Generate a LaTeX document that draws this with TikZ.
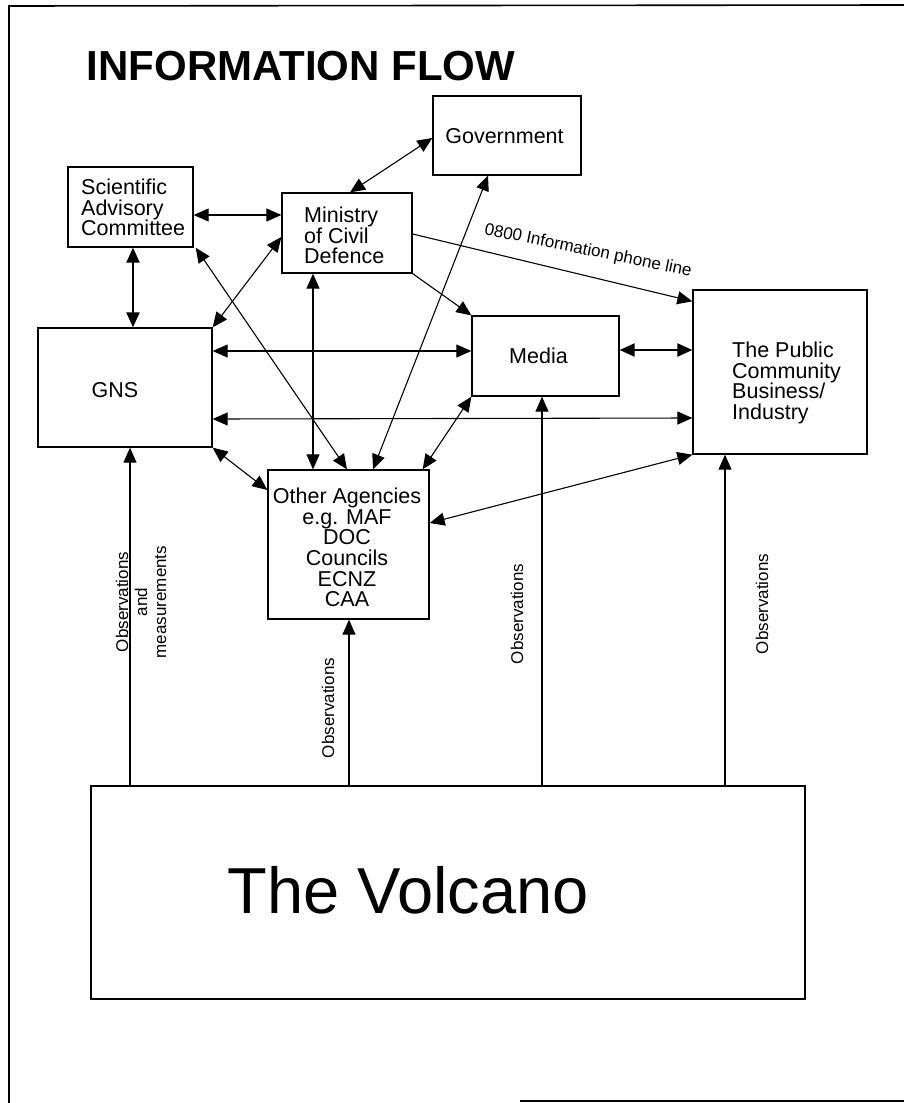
\documentclass[tikz,border=0pt]{standalone}
\usepackage{fontspec}
\setmainfont{Liberation Sans}
\usetikzlibrary{arrows.meta,calc}
\tikzset{
  box/.style={draw, line width=1.3pt, inner sep=0pt},
  boxtext/.style={inner sep=0pt, font=\fontsize{21.5}{20.6}\selectfont},
  obs/.style={inner sep=0pt, rotate=90, font=\fontsize{17}{19}\selectfont, align=center},
  conn/.style={line width=1.1pt, {Triangle[length=15pt,width=13pt]}-{Triangle[length=15pt,width=13pt]}},
  one/.style={line width=1.1pt, -{Triangle[length=15pt,width=13pt]}},
  heavy/.style={line width=2.2pt},
  frame/.style={line width=1.6pt}
}
\begin{document}
\begin{tikzpicture}[x=1pt,y=-1pt]
\useasboundingbox (0,0) rectangle (904,1103);
% frame
\coordinate (f1) at (9,1103);
\coordinate (f2) at (9,6);
\coordinate (f3) at (904,5);
\coordinate (f4) at (520,1101);
\coordinate (f5) at (904,1101);
\draw[frame] (f1) -- (f2) -- (f3);
\draw[frame] (f4) -- (f5);

% title
\node[anchor=base west, inner sep=0pt, font=\fontsize{42}{42}\selectfont\bfseries] (title) at (86.5,80) {INFORMATION FLOW};

% boxes
\node[box, minimum width=125pt, minimum height=80pt] (sac) at (130.5,207) {};
\node[box, minimum width=130pt, minimum height=80pt] (mcd) at (347,233) {};
\node[box, minimum width=148pt, minimum height=79pt] (gov) at (507,135.5) {};
\node[box, minimum width=174pt, minimum height=119pt] (gns) at (125,387.5) {};
\node[box, minimum width=147pt, minimum height=80pt] (med) at (545.5,356) {};
\node[box, minimum width=174pt, minimum height=164pt] (pub) at (780,372) {};
\node[box, minimum width=161pt, minimum height=149pt] (oth) at (348.5,544.5) {};
\node[box, minimum width=714pt, minimum height=213pt] (vol) at (448,892.5) {};

% box texts
\node[boxtext, anchor=north west, align=left] (sact) at (81,179) {Scientific\\Advisory\\Committee};
\node[boxtext, anchor=north west, align=left] (mcdt) at (304,207) {Ministry\\of Civil\\Defence};
\node[boxtext] (govt) at (504.5,136) {Government};
\node[boxtext] (medt) at (538.5,356) {Media};
\node[boxtext] (gnst) at (115,390) {GNS};
\node[boxtext, anchor=north west, align=left] (pubt) at (732,342) {The Public\\Community\\Business/\\Industry};
\node[boxtext, anchor=north, align=center] (otht) at (347,488) {Other Agencies\\e.g. MAF\\DOC\\Councils\\ECNZ\\CAA};
\node[anchor=base, inner sep=0pt, font=\fontsize{65}{65}\selectfont] (volt) at (408,913) {The Volcano};

% connectors
\draw[conn] ($(sac.east)+(0,8)$) -- ($(mcd.west)+(0,-18)$);
\draw[conn, heavy] ($(sac.south)+(2.5,0)$) -- ($(gns.north)+(8,0)$);
\draw[conn] ($(mcd.north)+(3,0)$) -- ($(gov.west)+(0,2.5)$);
\draw[conn] ($(mcd.west)+(0,4)$) -- (gns.north east);
\draw[conn] ($(sac.south east)+(2,0)$) -- ($(oth.north)+(-1.5,0)$);
\draw[conn] ($(mcd.south)+(-34,0)$) -- ($(oth.north)+(-35.5,0)$);
\draw[conn] ($(gov.south)+(-19,0)$) -- ($(oth.north)+(24.5,0)$);
\draw[one] (mcd.south east) -- (med.north west);
\draw[one] ($(mcd.east)+(0,1)$) -- ($(pub.north west)+(0,12)$);
\node[inner sep=0pt, rotate=-11.5, font=\fontsize{17}{17}\selectfont] (phone) at (588,251) {0800 Information phone line};
\draw[conn] ($(gns.east)+(0,-36.5)$) -- ($(med.west)+(0,-5)$);
\draw[conn, heavy] ($(med.east)+(0,-6)$) -- ($(pub.west)+(0,-22)$);
\draw[conn] ($(gns.east)+(0,31.5)$) -- ($(pub.west)+(0,46)$);
\draw[conn] (med.south west) -- ($(oth.north east)+(-7,0)$);
\draw[conn] (gns.south east) -- ($(oth.west)+(0,-54.5)$);
\draw[conn] (pub.south west) -- ($(oth.east)+(0,-21.5)$);

% observations
\draw[one] ($(vol.north)+(-318,0)$) -- ($(gns.south)+(5,0)$);
\draw[one] ($(vol.north)+(-99,0)$) -- ($(oth.south)+(0.5,0)$);
\draw[one] ($(vol.north)+(94,0)$) -- ($(med.south)+(-3.5,0)$);
\draw[one] ($(vol.north)+(277,0)$) -- ($(pub.south)+(-55,0)$);
\node[obs] (obs1) at (141,602) {Observations\\and\\measurements};
\node[obs] (obs2) at (328,708) {Observations};
\node[obs] (obs3) at (517,614) {Observations};
\node[obs] (obs4) at (762,604) {Observations};
\end{tikzpicture}
\end{document}
